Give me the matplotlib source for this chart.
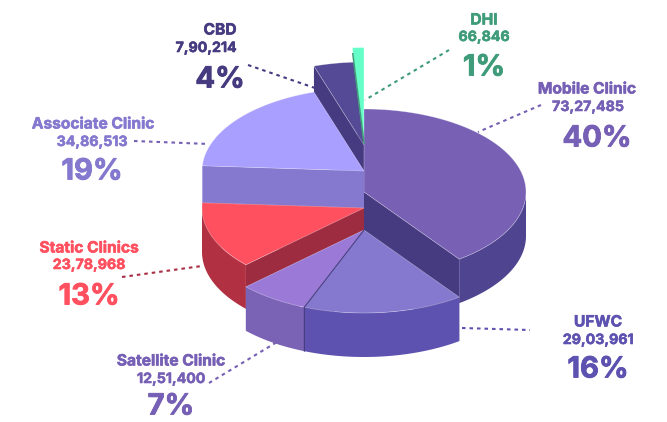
import numpy as np
import matplotlib
matplotlib.use('Agg')
import matplotlib.pyplot as plt
import matplotlib.patheffects as pe
from matplotlib.patches import Polygon

# data, clockwise from 12 o'clock
clinics = ['Mobile Clinic', 'UFWC', 'Satellite Clinic', 'Static Clinics', 'Associate Clinic', 'CBD', 'DHI']
counts = ['73,27,485', '29,03,961', '12,51,400', '23,78,968', '34,86,513', '7,90,214', '66,846']
percents = [40, 16, 7, 13, 19, 4, 1]

# look of each slice
top_colors = ['#7860b5', '#8478cf', '#9a7ad6', '#ff5060', '#a99fff', '#544a95', '#66ffc8']
wall_colors = ['#4f4490', '#5d52b0', '#7a62b5', '#b13042', '#8478cf', '#4f4490', '#3f9c7a']
face_colors = ['#463b80', '#463b80', '#7a62b5', '#9e2c41', '#8478cf', '#463b80', '#3f9c7a']
text_colors = ['#7660b5', '#5d52b0', '#7660b5', '#ff5060', '#8478cf', '#463b80', '#3f9c7a']
line_colors = ['#7660b5', '#5d52b0', '#7660b5', '#a82f45', '#7660b5', '#463b80', '#3f9c7a']
center_y = [192, 230, 230, 208, 171, 145, 143]
stretch = [1, 1, 1, 1, 1, 1, 1.15]
draw_order = [6, 5, 0, 4, 3, 2, 1]

# label anchors in pixels: name, count, percent
name_pos = [(587, 89), (598, 322), (171, 361), (89, 248), (93, 124), (220, 30), (484, 20)]
count_pos = [(588, 107), (598, 340), (171, 379), (89, 265), (92, 142), (206, 48), (484, 37)]
pct_pos = [(597, 139), (598, 370), (171, 407), (89, 297), (92, 172), (220, 80), (484, 68)]
leaders = [((541, 105), (478, 132)), ((462, 328), (530, 330)), ((209, 383), (277, 342)),
           ((122, 277), (202, 266)), ((134, 141), (209, 144)), ((248, 65), (315, 88)),
           ((449, 50), (365, 100))]

CX = 364
RX = 162
RY = 83
DEPTH = 44

plt.rcParams['font.family'] = ['Inter', 'DejaVu Sans']

fig = plt.figure(figsize=(6.67, 4.22), dpi=100)
ax = fig.add_axes([0, 0, 1, 1])
ax.set_xlim(0, 667)
ax.set_ylim(422, 0)
ax.axis('off')


def arc(a0, a1, cy, k=1.0):
    t = np.radians(np.linspace(a0, a1, 80))
    return np.column_stack([CX + k * RX * np.cos(t), cy - k * RY * np.sin(t)])


def draw_slice(i, a0, a1):
    # a0 > a1, going clockwise
    cy = center_y[i]
    k = stretch[i]
    apex = np.array([CX, cy])
    drop = np.array([0, DEPTH])
    outer = arc(a0, a1, cy, k)

    # cut faces; DHI only gets its sliver further down
    if clinics[i] != 'DHI':
        for edge in (outer[0], outer[-1]):
            quad = np.array([apex, edge, edge + drop, apex + drop])
            ax.add_patch(Polygon(quad, closed=True, fc=face_colors[i], ec='none'))

    # outer wall, only the front half of the ellipse shows
    lo = max(a1, -180)
    hi = min(a0, 0)
    if hi > lo:
        front = arc(hi, lo, cy, k)
        ax.add_patch(Polygon(np.vstack([front, (front + drop)[::-1]]), closed=True,
                             fc=wall_colors[i], ec='none'))

    ax.add_patch(Polygon(np.vstack([apex, outer]), closed=True, fc=top_colors[i],
                         ec='#ffffff60', lw=0.5))
    return apex, outer


angles = 90 - np.cumsum([0] + percents) * 3.6

for i in range(len(clinics)):
    (x0, y0), (x1, y1) = leaders[i]
    ax.plot([x0, x1], [y0, y1], color=line_colors[i], lw=1.5, ls=(0, (1.7, 1.9)), zorder=0)

for i in draw_order:
    apex, outer = draw_slice(i, angles[i], angles[i + 1])
    if clinics[i] == 'DHI':
        # darker sliver down the left side of the green slice
        ax.plot([outer[0][0] + 0.5, apex[0]], [outer[0][1] + 6, apex[1]], color=face_colors[i], lw=1.1)
    if clinics[i] == 'UFWC':
        ax.plot([apex[0], outer[-1][0], outer[-1][0]],
                [apex[1], outer[-1][1], outer[-1][1] + DEPTH], color='#463b80', lw=0.8)

for i in range(len(clinics)):
    c = text_colors[i]
    thick = [pe.withStroke(linewidth=0.4, foreground=c)]
    ax.text(*name_pos[i], clinics[i], color=c, fontsize=11.2, fontweight='bold', ha='center', va='center',
            path_effects=thick)
    ax.text(*count_pos[i], counts[i], color=c, fontsize=10.2, fontweight='bold', ha='center', va='center',
            path_effects=thick)
    ax.text(*pct_pos[i], str(percents[i]) + '%', color=c, fontsize=21, fontweight='bold', ha='center', va='center',
            path_effects=[pe.withStroke(linewidth=0.6, foreground=c)])

fig.savefig('out.png', dpi=100)
